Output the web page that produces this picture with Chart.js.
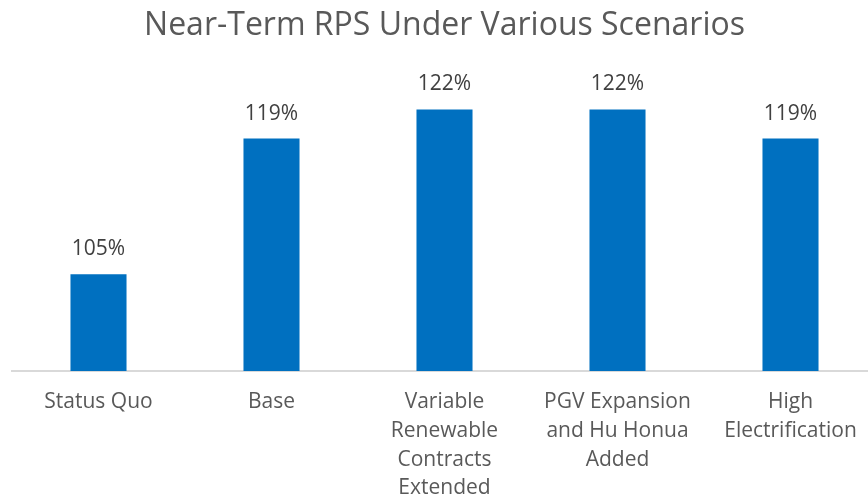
<!DOCTYPE html>
<html>
<head>
<meta charset="utf-8">
<script src="https://cdn.jsdelivr.net/npm/chart.js@4"></script>
<style>
  html, body { margin: 0; padding: 0; background: #fff; overflow: hidden; }
</style>
</head>
<body>
<canvas id="rpsChart" width="877" height="519"></canvas>
<script>
const scenarios = [
  'Status Quo',
  'Base',
  ['Variable', 'Renewable', 'Contracts', 'Extended'],
  ['PGV Expansion', 'and Hu Honua', 'Added'],
  ['High', 'Electrification'],
];
const rpsPercent = [105, 119, 122, 122, 119];
const axisMin = 95;
const axisMax = 125;

// draws the "119%" style labels above each bar
const barLabels = {
  id: 'barLabels',
  afterDatasetsDraw(chart) {
    const { ctx } = chart;
    const meta = chart.getDatasetMeta(0);
    ctx.save();
    ctx.font = '21px "Open Sans"';
    ctx.fillStyle = '#404040';
    ctx.textAlign = 'center';
    ctx.textBaseline = 'alphabetic';
    meta.data.forEach((bar, i) => {
      ctx.fillText(rpsPercent[i] + '%', bar.x, bar.y - 19);
    });
    ctx.restore();
  },
};

const ctx = document.getElementById('rpsChart').getContext('2d');
new Chart(ctx, {
  type: 'bar',
  data: {
    labels: scenarios,
    datasets: [
      {
        data: rpsPercent,
        backgroundColor: '#0070C0',
        borderWidth: 0,
        categoryPercentage: 1,
        barPercentage: 0.324,
      },
    ],
  },
  options: {
    responsive: false,
    animation: false,
    layout: {
      padding: { left: 12, right: 0, top: 0, bottom: 0 },
    },
    plugins: {
      legend: { display: false },
      tooltip: { enabled: false },
      title: {
        display: true,
        text: 'Near-Term RPS Under Various Scenarios',
        color: '#595959',
        font: { family: '"Open Sans"', size: 32, weight: 'normal', lineHeight: 1.2 },
        padding: { top: 7, bottom: 35 },
      },
    },
    scales: {
      x: {
        grid: { display: false, drawTicks: false },
        border: { display: true, color: '#d9d9d9', width: 2 },
        ticks: {
          color: '#595959',
          padding: 16,
          maxRotation: 0,
          autoSkip: false,
          font: { family: '"Open Sans"', size: 21, lineHeight: 1.38 },
        },
      },
      y: {
        display: false,
        min: axisMin,
        max: axisMax,
      },
    },
  },
  plugins: [barLabels],
});
</script>
</body>
</html>
